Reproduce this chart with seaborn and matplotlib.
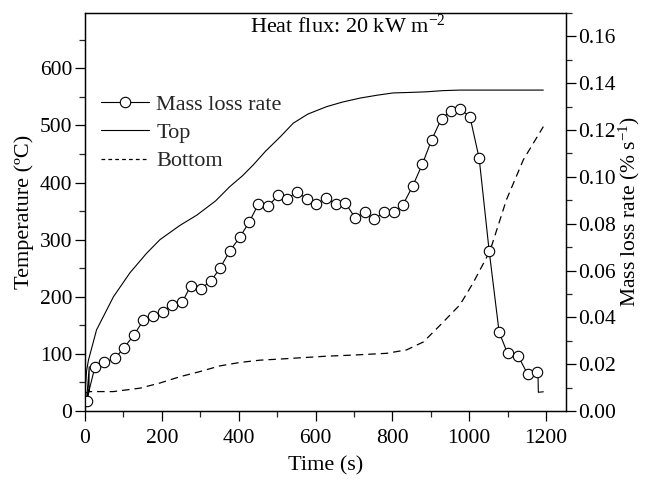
import numpy as np
import pandas as pd
import matplotlib
matplotlib.use("Agg")
import matplotlib.pyplot as plt
from matplotlib.lines import Line2D
from matplotlib.ticker import MultipleLocator
import seaborn as sns

# ---------------- data ----------------
time_top = [0, 4, 9, 30, 74, 117, 160, 195, 247, 291, 340, 377, 410, 438, 470, 508,
            542, 580, 629, 670, 716, 760, 802, 850, 889, 930, 976, 1050, 1100, 1150, 1193]
temp_top = [30, 70, 89, 142, 200, 242, 276, 300, 325, 343, 368, 393, 412, 431, 455, 480,
            504, 520, 533, 541, 548, 553, 557, 558, 559, 561, 562, 562, 562, 562, 562]

time_bottom = [0, 10, 74, 143, 195, 247, 299, 351, 403, 455, 508, 629, 700, 785, 837,
               881, 924, 976, 1010, 1054, 1097, 1141, 1193]
temp_bottom = [31, 34, 34, 40, 49, 60, 69, 79, 85, 89, 91, 96, 98, 101, 107,
               121, 150, 186, 224, 280, 370, 440, 498]

time_mlr = [4, 26, 50, 78, 101, 128, 152, 178, 204, 226, 253, 275, 302, 328, 351, 377,
            403, 428, 451, 477, 503, 527, 551, 577, 602, 627, 653, 678, 703, 729, 753,
            778, 803, 827, 853, 878, 902, 928, 952, 976, 1002, 1026, 1052, 1078, 1100,
            1128, 1152, 1177]
mlr = [0.0044, 0.0189, 0.0208, 0.0225, 0.0269, 0.0326, 0.0388, 0.0404, 0.0425, 0.0454,
       0.0464, 0.0535, 0.0523, 0.0556, 0.0609, 0.0684, 0.0742, 0.0809, 0.0883, 0.0876,
       0.0921, 0.0907, 0.0936, 0.0907, 0.0883, 0.0911, 0.0883, 0.0887, 0.0826, 0.0848,
       0.0819, 0.0850, 0.0850, 0.0879, 0.0961, 0.1054, 0.1157, 0.1249, 0.1281, 0.1290,
       0.1257, 0.1079, 0.0684, 0.0336, 0.0246, 0.0233, 0.0158, 0.0165]
# extra line-only points (start jump and final drop)
mlr_start_t = [0, 10, 11]
mlr_start = [0.0030, 0.0080, 0.0189]
mlr_end_t = [1179, 1180, 1193]
mlr_end = [0.0165, 0.0080, 0.0082]

title_text = "Heat flux: 20 kW m$^{\\mathrm{-2}}$"
xlabel = "Time (s)"
ylabel_left = "Temperature (ºC)"
ylabel_right = "Mass loss rate (% s$^{\\mathrm{-1}}$)"
legend_labels = ["Mass loss rate", "Top", "Bottom"]

# ---------------- style ----------------
sns.set_theme(style="ticks")
plt.rcParams["font.family"] = ["Liberation Serif", "DejaVu Serif"]
plt.rcParams["mathtext.fontset"] = "custom"
plt.rcParams["mathtext.rm"] = "Liberation Serif"
plt.rcParams["mathtext.it"] = "Liberation Serif:italic"
plt.rcParams["mathtext.bf"] = "Liberation Serif:bold"
plt.rcParams["axes.edgecolor"] = "black"
plt.rcParams["axes.linewidth"] = 0.9

fs = 15.5

fig = plt.figure(figsize=(6.46, 4.79), dpi=100)
ax = fig.add_axes([85 / 646, 1 - 411 / 479, (566 - 85) / 646, (411 - 13) / 479])
ax2 = ax.twinx()

df_top = pd.DataFrame({"t": time_top, "T": temp_top})
df_bot = pd.DataFrame({"t": time_bottom, "T": temp_bottom})
line_t = mlr_start_t + time_mlr + mlr_end_t
line_m = mlr_start + mlr + mlr_end
df_mlr_line = pd.DataFrame({"t": line_t, "m": line_m})
df_mlr = pd.DataFrame({"t": time_mlr, "m": mlr})

sns.lineplot(data=df_top, x="t", y="T", ax=ax, color="black", lw=0.8, estimator=None, sort=False)
sns.lineplot(data=df_bot, x="t", y="T", ax=ax, color="black", lw=0.9, estimator=None,
             sort=False, linestyle=(0, (6, 4)))
sns.lineplot(data=df_mlr_line, x="t", y="m", ax=ax2, color="black", lw=0.8, estimator=None, sort=False)
ax2.plot(df_mlr["t"], df_mlr["m"], linestyle="none", marker="o", ms=7.5,
         mfc="white", mec="black", mew=0.8)

ax.set_xlim(0, 1252)
ax.set_ylim(0, 697)
ax2.set_ylim(0, 0.17)

ax.xaxis.set_major_locator(MultipleLocator(200))
ax.xaxis.set_minor_locator(MultipleLocator(100))
ax.yaxis.set_major_locator(MultipleLocator(100))
ax.yaxis.set_minor_locator(MultipleLocator(50))
ax2.yaxis.set_major_locator(MultipleLocator(0.02))
ax2.yaxis.set_minor_locator(MultipleLocator(0.01))
ax2.yaxis.set_major_formatter(matplotlib.ticker.FormatStrFormatter("%.2f"))

for a in (ax, ax2):
    a.tick_params(which="major", direction="out", length=7, width=0.9, labelsize=fs, colors="black")
    a.tick_params(which="minor", direction="out", length=4, width=0.9)
    for s in a.spines.values():
        s.set_visible(True)
        s.set_color("black")
ax.tick_params(axis="x", which="both", top=False, pad=6)
ax.tick_params(axis="y", which="both", right=False, pad=2)
ax2.tick_params(axis="y", which="both", left=False, pad=2)

ax.set_xlabel(xlabel, fontsize=fs + 0.5, color="black", labelpad=6)
ax.set_ylabel(ylabel_left, fontsize=fs + 0.5, color="black", labelpad=4)
ax2.set_ylabel(ylabel_right, fontsize=fs, color="black", labelpad=0)

ax.text(0.547, 0.997, title_text, transform=ax.transAxes, ha="center", va="top",
        fontsize=fs + 0.5, color="black")

handles = [
    Line2D([], [], color="black", lw=0.8, marker="o", ms=7.5, mfc="white", mec="black", mew=0.8),
    Line2D([], [], color="black", lw=0.8),
    Line2D([], [], color="black", lw=0.9, linestyle=(0, (3, 2.5))),
]
ax2.legend(handles, legend_labels, loc="upper left", bbox_to_anchor=(0.0, 0.835),
           frameon=False, fontsize=fs + 0.5, handlelength=2.2, handletextpad=0.3,
           labelspacing=0.35, borderaxespad=0.3)

ax.grid(False)
ax2.grid(False)
fig.savefig("out.png", dpi=100)
